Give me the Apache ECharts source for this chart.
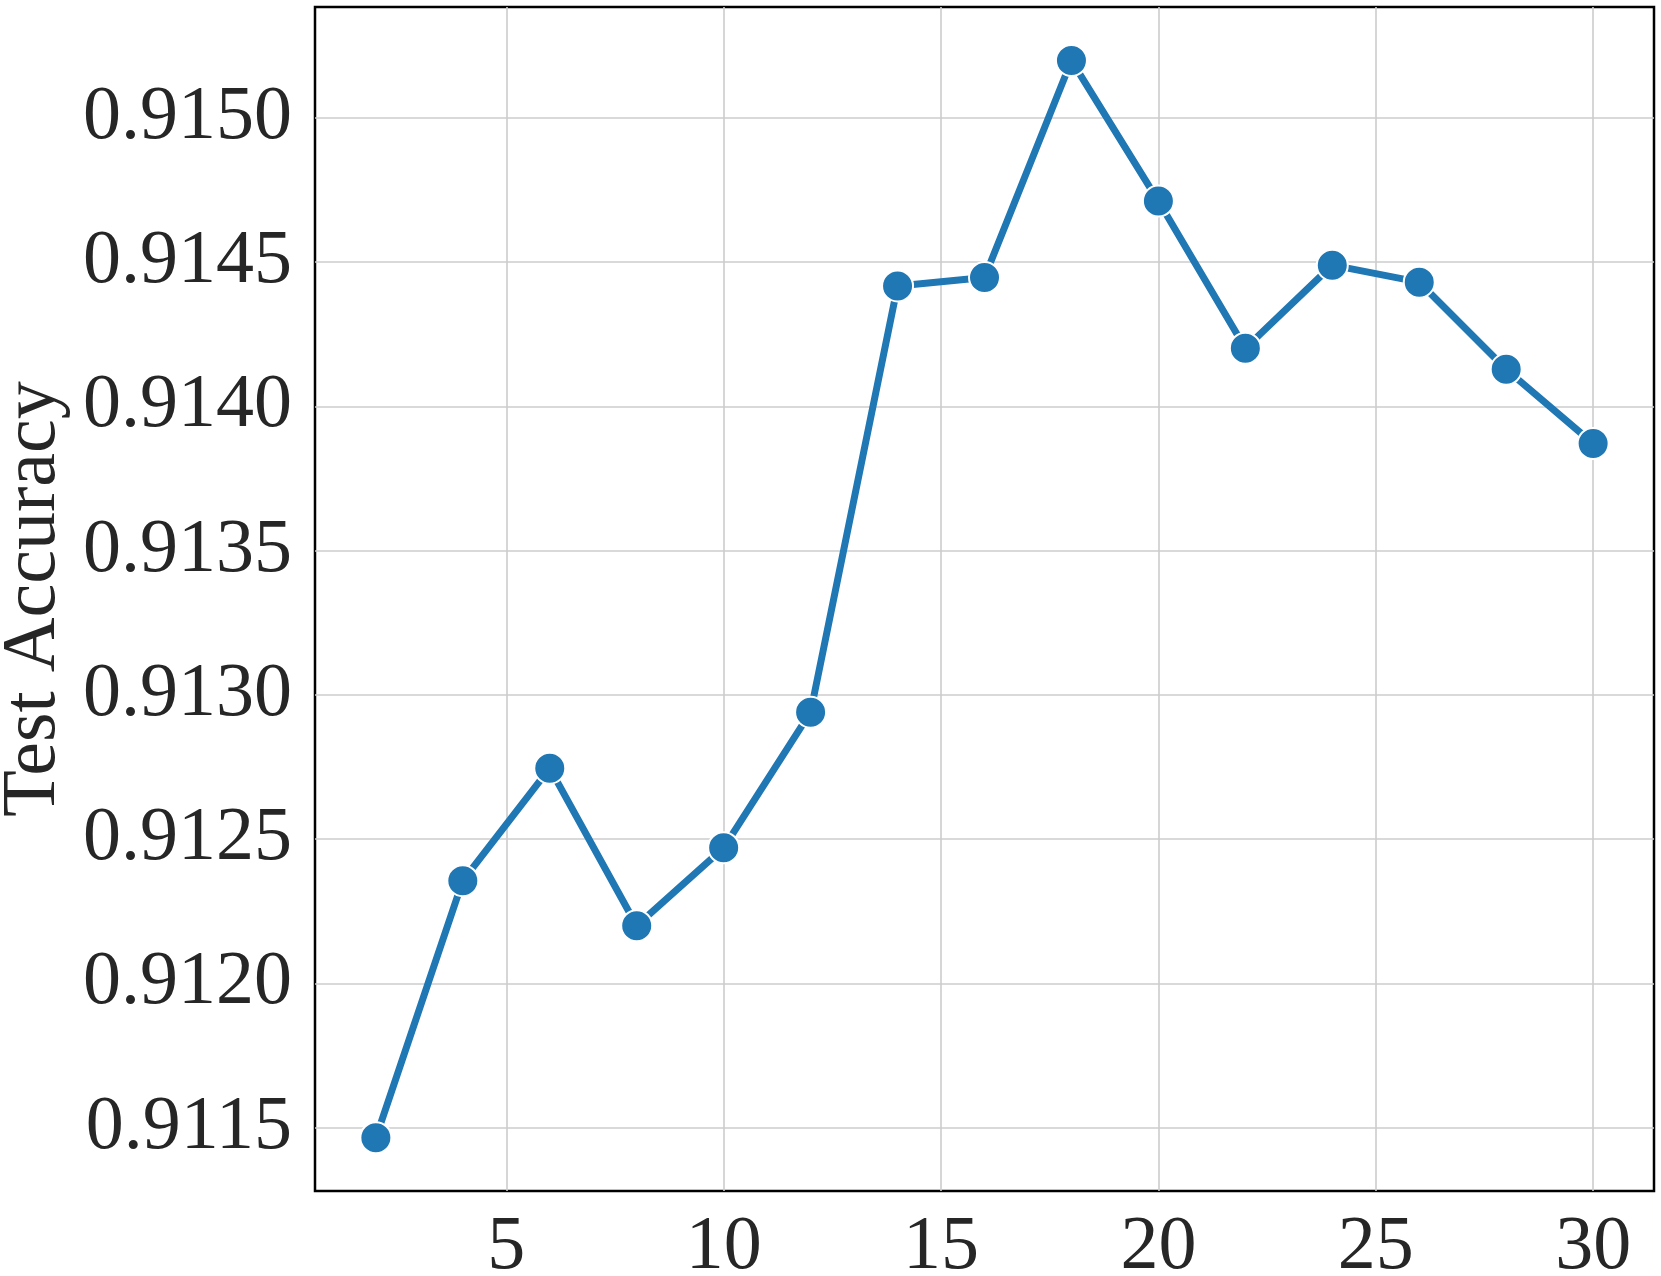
<!DOCTYPE html>
<html>
<head>
<meta charset="utf-8">
<script src="https://cdn.jsdelivr.net/npm/echarts@6/dist/echarts.min.js"></script>
<style>
html,body{margin:0;padding:0;background:#fff;}
#chart{width:1661px;height:1276px;}
</style>
</head>
<body>
<div id="chart"></div>
<script>
const xValues = [2, 4, 6, 8, 10, 12, 14, 16, 18, 20, 22, 24, 26, 28, 30];
const accuracy = [0.911465, 0.912356, 0.912746, 0.912200, 0.912470, 0.912940, 0.914417, 0.914446, 0.915198, 0.914711, 0.914201, 0.914489, 0.914430, 0.914128, 0.913871];
const xTicks = [5, 10, 15, 20, 25, 30];
const yTicks = [0.9115, 0.9120, 0.9125, 0.9130, 0.9135, 0.9140, 0.9145, 0.9150];
const yName = 'Test Accuracy';

const FONT = '"Liberation Serif", "Times New Roman", serif';
const TXT = '#262626';

const chart = echarts.init(document.getElementById('chart'), null, {renderer: 'canvas'});
chart.setOption({
  animation: false,
  backgroundColor: '#fff',
  grid: {
    left: 315, top: 7, right: 7, bottom: 85,
    containLabel: false,
    outerBoundsMode: 'none',
    show: true, borderColor: '#000', borderWidth: 2.5, backgroundColor: 'transparent'
  },
  xAxis: {
    type: 'value',
    min: 0.6, max: 31.4,
    axisLine: {show: false},
    axisTick: {show: false, customValues: xTicks},
    axisLabel: {
      customValues: xTicks,
      fontFamily: FONT, fontSize: 76, color: TXT, margin: 19
    },
    splitLine: {show: true, lineStyle: {color: '#cccccc', width: 1.6}}
  },
  yAxis: {
    type: 'value',
    min: 0.9112806, max: 0.9153836,
    name: yName,
    nameLocation: 'middle',
    nameRotate: 90,
    nameGap: 238,
    nameTextStyle: {fontFamily: FONT, fontSize: 76, color: TXT},
    axisLine: {show: false},
    axisTick: {show: false, customValues: yTicks},
    axisLabel: {
      customValues: yTicks,
      fontFamily: FONT, fontSize: 76, color: TXT, margin: 23,
      formatter: v => v.toFixed(4)
    },
    splitLine: {show: true, lineStyle: {color: '#cccccc', width: 1.6}}
  },
  series: [{
    type: 'line',
    data: xValues.map((x, i) => [x, accuracy[i]]),
    symbol: 'circle',
    symbolSize: 31,
    lineStyle: {color: '#1f77b4', width: 7},
    itemStyle: {color: '#1f77b4', borderColor: '#ffffff', borderWidth: 2},
    z: 5
  }]
});
</script>
</body>
</html>
